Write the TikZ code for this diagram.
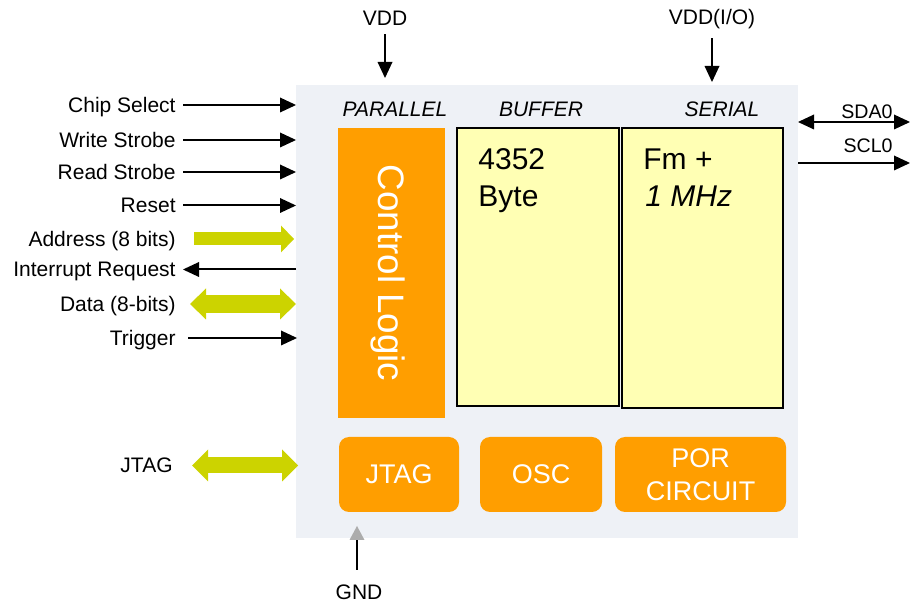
\documentclass[tikz,border=0pt]{standalone}
\usepackage{fontspec}
\setmainfont{Liberation Sans}
\usetikzlibrary{arrows.meta, positioning}
\definecolor{chipgray}{RGB}{238,241,246}
\definecolor{blockorange}{RGB}{255,158,0}
\definecolor{memyellow}{RGB}{255,255,180}
\definecolor{buslime}{RGB}{204,211,0}
\tikzset{
  chipbox/.style = {fill=chipgray, inner sep=0pt, outer sep=0pt},
  logicbox/.style = {fill=blockorange, inner sep=0pt, outer sep=0pt},
  membox/.style = {fill=memyellow, draw=black, line width=1pt,
      inner sep=0pt, outer sep=0pt},
  funcbox/.style = {fill=blockorange, rounded corners=5pt, inner sep=0pt,
      text=white, align=center, minimum height=37.5pt,
      font=\fontsize{13.5}{16.5}\selectfont},
  signame/.style = {font=\fontsize{10.5}{12}\selectfont, inner sep=0pt,
      text height=7.5pt, text depth=0pt},
  smallname/.style = {signame, font=\fontsize{9.8}{11}\selectfont,
      text height=7pt},
  hdr/.style = {font=\fontsize{10.5}{12}\selectfont\itshape, inner sep=0pt,
      anchor=base},
  memtext/.style = {font=\fontsize{15}{18}\selectfont, inner sep=0pt,
      anchor=base west},
  sig/.style = {line width=1pt,
      -{Triangle[length=8pt, width=7.5pt, line width=0pt]}},
  bisig/.style = {line width=1pt,
      {Triangle[length=8pt, width=7.5pt, line width=0pt]}-{Triangle[length=8pt, width=7.5pt, line width=0pt]}},
  bus/.style n args = {3}{buslime, line width=#1,
      -{Triangle[length=#2, width=#3, line width=0pt]}},
  bibus/.style n args = {3}{buslime, line width=#1,
      {Triangle[length=#2, width=#3, line width=0pt]}-{Triangle[length=#2, width=#3, line width=0pt]}},
}

\begin{document}
\begin{tikzpicture}[x=0.5pt, y=-0.5pt]
  \useasboundingbox (0,0) rectangle (910,603);

  % chip and its blocks
  \node[chipbox, minimum width=251pt, minimum height=226.5pt] (chip) at (547,311.5) {};
  \node[logicbox, minimum width=53.5pt, minimum height=145pt] (ctrl) at (391.5,273) {};
  \node[rotate=-90, text=white, inner sep=0pt, text height=13.2pt, text depth=0pt,
    font=\fontsize{18.4}{20}\selectfont] (ctrltxt) at (ctrl.center) {Control Logic};
  \node[membox, minimum width=81pt, minimum height=139pt] (buf) at (538,267) {};
  \node[membox, minimum width=80.5pt, minimum height=140pt] (ser) at (702.5,268) {};

  \node[hdr] (parhdr) at (395,117) {PARALLEL};
  \node[hdr] (bufhdr) at (541,117) {BUFFER};
  \node[hdr] (serhdr) at (722,117) {SERIAL};

  \node[memtext] (bufsize) at (478,170) {4352};
  \node[memtext] (bufunit) at (478,207) {Byte};
  \node[memtext] (sermode) at (643,170) {Fm +};
  \node[memtext, font=\fontsize{15}{18}\selectfont\itshape] (serfreq) at (645,207) {1 MHz};

  \node[funcbox, minimum width=60pt] (jtag) at (399,474.5) {JTAG};
  \node[funcbox, minimum width=61pt] (osc) at (541,474.5) {OSC};
  \node[funcbox, minimum width=85.5pt] (por) at (700.5,474.5) {POR\\CIRCUIT};

  % parallel side
  \node[signame, anchor=east] (cs) at (176,105) {Chip Select};
  \node[signame, anchor=east] (ws) at (176,140) {Write Strobe};
  \node[signame, anchor=east] (rs) at (176,172) {Read Strobe};
  \node[signame, anchor=east] (rst) at (176,205.5) {Reset};
  \node[signame, anchor=east] (addr) at (176,239) {Address (8 bits)};
  \node[signame, anchor=east] (irq) at (176,269.5) {Interrupt Request};
  \node[signame, anchor=east] (data) at (176,304) {Data (8-bits)};
  \node[signame, anchor=east] (trig) at (176,338) {Trigger};
  \node[signame, anchor=east] (jtagpin) at (173,465.5) {JTAG};

  \draw[sig] ([xshift=3.5pt]cs.east) -- (cs.east -| chip.west);
  \draw[sig] ([xshift=3.5pt]ws.east) -- (ws.east -| chip.west);
  \draw[sig] ([xshift=3.5pt]rs.east) -- (rs.east -| chip.west);
  \draw[sig] ([xshift=3.5pt]rst.east) -- (rst.east -| chip.west);
  \draw[bus={6.5pt}{6.5pt}{13.5pt}] ([xshift=9pt]addr.east) -- ([xshift=-1pt]addr.east -| chip.west);
  \draw[sig] (irq.east -| chip.west) -- ([xshift=3.5pt]irq.east);
  \draw[bibus={9pt}{8pt}{15.5pt}] ([xshift=7pt]data.east) -- (data.east -| chip.west);
  \draw[sig] ([xshift=6pt]trig.east) -- ([xshift=0.5pt]trig.east -| chip.west);
  \draw[bibus={8pt}{8pt}{16pt}] ([xshift=9.5pt]jtagpin.east) -- ([xshift=1pt]jtagpin.east -| chip.west);

  % supplies
  \node[signame] (vdd) at (385,18.5) {VDD};
  \node[signame] (vddio) at (712,17.5) {VDD(I/O)};
  \node[signame] (gnd) at (359,592.5) {GND};
  \draw[sig] ([yshift=-4pt]vdd.south) -- ([yshift=3.5pt]vdd.south |- chip.north);
  \draw[sig] ([yshift=-6.5pt]vddio.south) -- ([yshift=1.5pt]vddio.south |- chip.north);
  \draw[line width=1pt, -{Triangle[length=7pt, width=7.5pt, line width=0pt, color=gray!65]}]
    ([xshift=-1pt, yshift=7.5pt]gnd.north) -- ([xshift=-1pt, yshift=6pt]gnd.north |- chip.south);

  % serial side
  \node[smallname, anchor=east] (sda) at (893,112) {SDA0};
  \node[smallname, anchor=east] (scl) at (893,146) {SCL0};
  \coordinate (sdaend) at (910,122);
  \coordinate (sclend) at (910,163);
  \draw[bisig] (chip.east |- sdaend) -- (sdaend);
  \draw[sig] (chip.east |- sclend) -- (sclend);
\end{tikzpicture}
\end{document}
